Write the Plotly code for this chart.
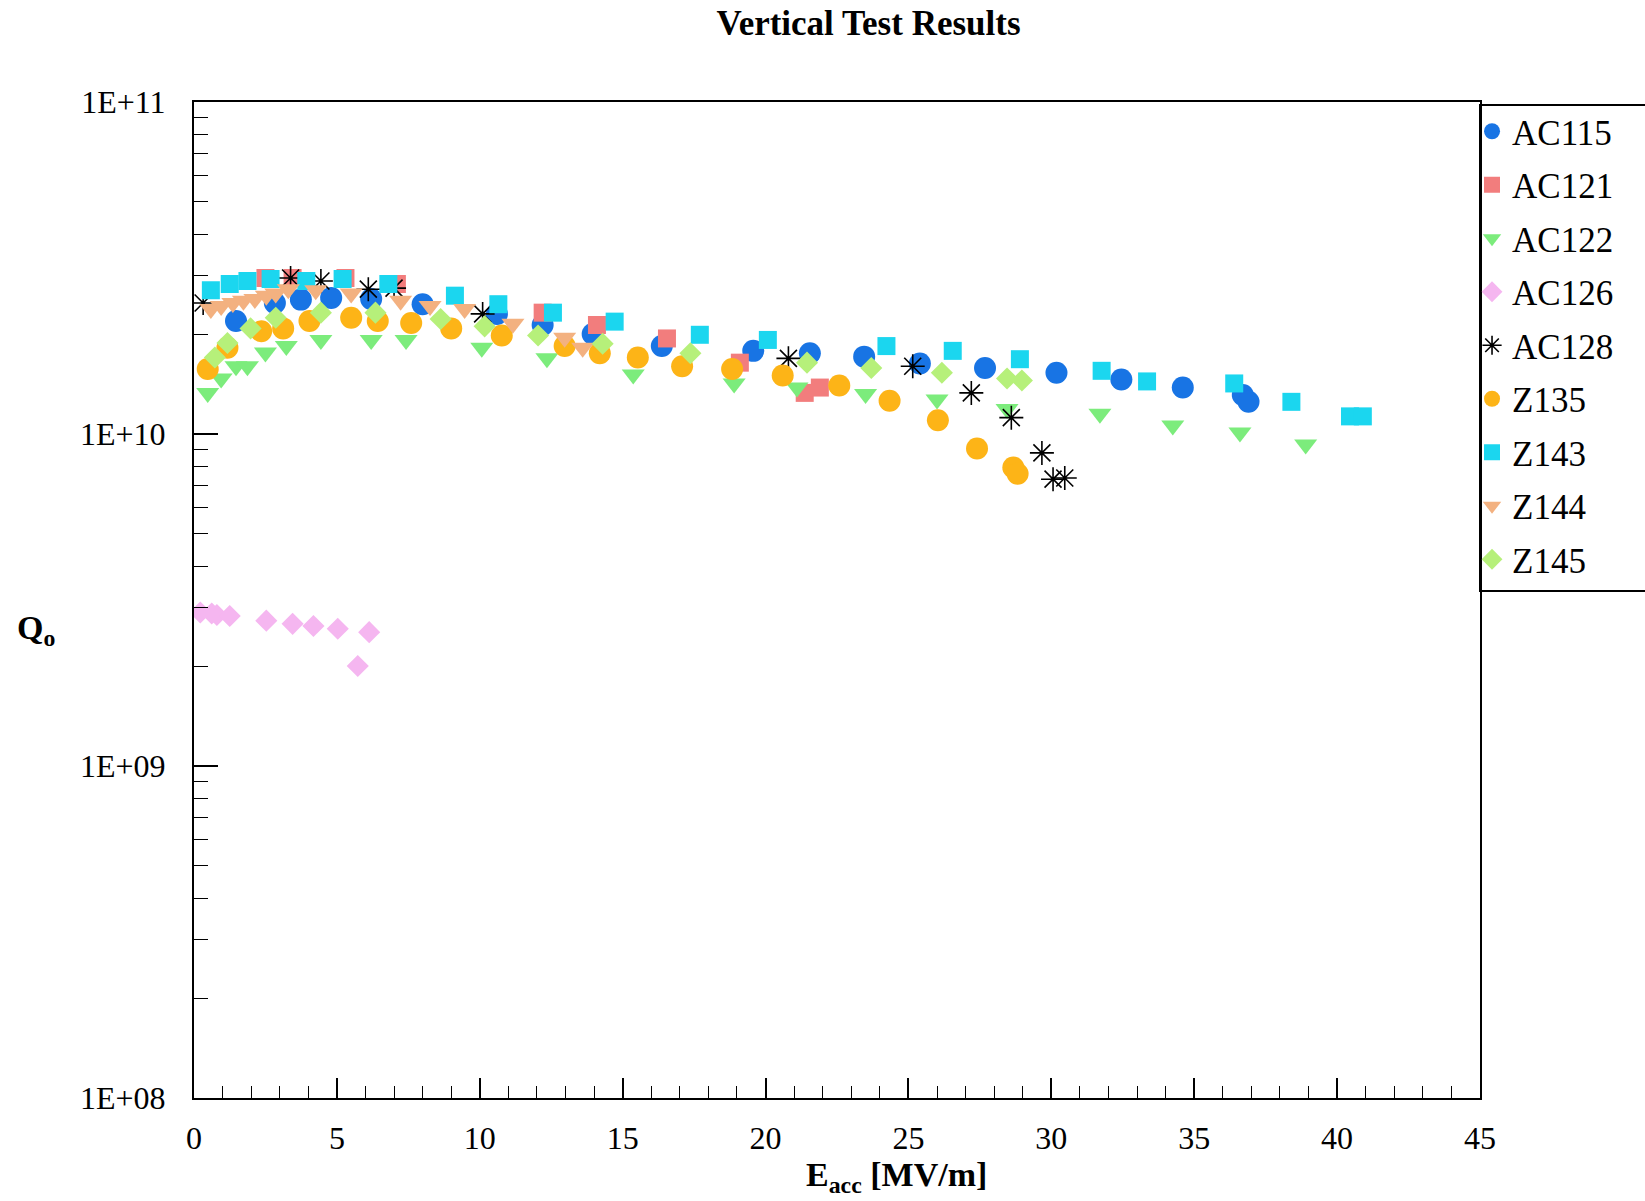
import plotly.graph_objects as go

# Accelerating gradient E_acc [MV/m] and quality factor Q0 for each cavity
ac115_e = [1.47, 2.83, 3.74, 4.8, 6.2, 8.0, 10.6, 12.2, 13.95, 16.37, 19.57, 21.55, 23.45, 25.4, 27.68, 30.18, 32.45, 34.6, 36.7, 36.9]
ac115_q = [2.19e10, 2.48e10, 2.54e10, 2.57e10, 2.55e10, 2.46e10, 2.30e10, 2.13e10, 2.0e10, 1.84e10, 1.78e10, 1.75e10, 1.71e10, 1.63e10, 1.58e10, 1.53e10, 1.46e10, 1.38e10, 1.31e10, 1.25e10]

ac121_e = [2.5, 3.45, 5.3, 7.1, 12.2, 14.1, 16.55, 19.1, 21.37, 21.9]
ac121_q = [2.95e10, 2.95e10, 2.95e10, 2.83e10, 2.32e10, 2.13e10, 1.94e10, 1.64e10, 1.33e10, 1.38e10]

ac122_e = [0.48, 0.95, 1.47, 1.87, 2.5, 3.23, 4.44, 6.2, 7.42, 10.07, 12.35, 15.37, 18.9, 21.1, 23.5, 26.0, 28.45, 31.7, 34.25, 36.6, 38.9]
ac122_q = [1.33e10, 1.47e10, 1.6e10, 1.6e10, 1.76e10, 1.84e10, 1.92e10, 1.92e10, 1.92e10, 1.82e10, 1.69e10, 1.51e10, 1.42e10, 1.38e10, 1.32e10, 1.27e10, 1.19e10, 1.15e10, 1.06e10, 1.01e10, 9.3e9]

ac126_e = [0.22, 0.62, 0.8, 1.25, 2.53, 3.45, 4.18, 5.03, 6.13, 5.73]
ac126_q = [2.9e9, 2.88e9, 2.85e9, 2.83e9, 2.74e9, 2.68e9, 2.64e9, 2.59e9, 2.53e9, 2.0e9]

ac128_e = [0.32, 3.38, 4.44, 6.1, 7.0, 10.1, 20.8, 25.15, 27.2, 28.6, 29.67, 30.06, 30.47]
ac128_q = [2.48e10, 2.95e10, 2.89e10, 2.73e10, 2.75e10, 2.3e10, 1.69e10, 1.6e10, 1.33e10, 1.12e10, 8.77e9, 7.31e9, 7.37e9]

z135_e = [0.48, 1.17, 2.35, 3.12, 4.04, 5.5, 6.43, 7.6, 9.0, 10.77, 12.97, 14.2, 15.53, 17.08, 18.83, 20.6, 22.58, 24.34, 26.03, 27.4, 28.67, 28.82]
z135_q = [1.57e10, 1.82e10, 2.04e10, 2.08e10, 2.19e10, 2.24e10, 2.19e10, 2.16e10, 2.08e10, 1.98e10, 1.84e10, 1.75e10, 1.70e10, 1.6e10, 1.57e10, 1.5e10, 1.4e10, 1.26e10, 1.1e10, 9.04e9, 7.93e9, 7.59e9]

z143_e = [0.59, 1.25, 1.87, 2.68, 3.93, 5.2, 6.8, 9.13, 10.65, 12.56, 14.72, 17.7, 20.08, 24.23, 26.55, 28.9, 31.76, 33.35, 36.4, 38.4, 40.45, 40.9]
z143_q = [2.71e10, 2.83e10, 2.89e10, 2.93e10, 2.89e10, 2.93e10, 2.83e10, 2.61e10, 2.46e10, 2.32e10, 2.18e10, 1.99e10, 1.92e10, 1.84e10, 1.78e10, 1.68e10, 1.55e10, 1.44e10, 1.42e10, 1.25e10, 1.13e10, 1.13e10]

z144_e = [0.59, 0.95, 1.36, 1.73, 2.13, 2.53, 2.86, 3.3, 4.26, 5.5, 7.23, 8.26, 9.47, 11.16, 12.97, 13.6]
z144_q = [2.38e10, 2.43e10, 2.48e10, 2.52e10, 2.55e10, 2.61e10, 2.65e10, 2.73e10, 2.71e10, 2.65e10, 2.52e10, 2.43e10, 2.38e10, 2.15e10, 1.95e10, 1.82e10]

z145_e = [0.73, 1.17, 1.98, 2.86, 4.44, 6.35, 8.63, 10.17, 12.04, 14.3, 17.37, 21.45, 23.7, 26.17, 28.45, 28.97]
z145_q = [1.7e10, 1.88e10, 2.08e10, 2.24e10, 2.32e10, 2.32e10, 2.22e10, 2.11e10, 1.98e10, 1.87e10, 1.75e10, 1.64e10, 1.58e10, 1.53e10, 1.47e10, 1.45e10]

x_ticks = [0, 5, 10, 15, 20, 25, 30, 35, 40, 45]
y_ticks = [1e8, 1e9, 1e10, 1e11]
y_tick_labels = ["1E+08", "1E+09", "1E+10", "1E+11"]

FONT = "Liberation Serif"

series = [
    ("AC115", ac115_e, ac115_q, "circle", "#1874e4", 22),
    ("AC121", ac121_e, ac121_q, "square", "#f27d7d", 18),
    ("AC122", ac122_e, ac122_q, "triangle-down", "#7cec7c", 20),
    ("AC126", ac126_e, ac126_q, "diamond", "#f5b6f0", 17),
    ("AC128", ac128_e, ac128_q, "asterisk-open", "#000000", 20),
    ("Z135", z135_e, z135_q, "circle", "#fdb417", 22),
    ("Z143", z143_e, z143_q, "square", "#1bd6ef", 18),
    ("Z144", z144_e, z144_q, "triangle-down", "#f3b180", 20),
    ("Z145", z145_e, z145_q, "diamond", "#b6f07a", 17),
]

fig = go.Figure()
for name, xs, ys, sym, col, size in series:
    if sym == "asterisk-open":
        marker = dict(symbol=sym, size=size, color=col, line=dict(color=col, width=1.6))
    else:
        marker = dict(symbol=sym, size=size, color=col, line=dict(width=0))
    fig.add_trace(go.Scatter(x=xs, y=ys, mode="markers", name=name,
                             legendgroup=name, marker=marker))

minor_y = [m * 10 ** d for d in (8, 9, 10) for m in range(2, 10)]

fig.update_layout(
    width=1645, height=1201,
    paper_bgcolor="white", plot_bgcolor="white",
    margin=dict(l=194, r=165, t=102, b=103, autoexpand=False),
    font=dict(family=FONT, color="black", size=32),
    title=dict(text="<b>Vertical Test Results</b>", x=0.528, xanchor="center",
               y=0.981, yanchor="middle", font=dict(family=FONT, size=35, color="black")),
    showlegend=True,
    legend=dict(x=0.9938, xanchor="left", y=1.0, yanchor="top",
                bgcolor="rgba(0,0,0,0)", borderwidth=0,
                font=dict(family=FONT, size=35, color="black"),
                itemsizing="trace", tracegroupgap=5, entrywidth=160),
    # legend frame, flush against the right edge of the plot
    shapes=[dict(type="rect", xref="paper", yref="paper",
                 x0=1.0, x1=1.14, y0=0.509, y1=0.997,
                 line=dict(color="black", width=2), fillcolor="rgba(0,0,0,0)")],
    xaxis=dict(range=[0, 45], tickmode="array", tickvals=x_ticks,
               ticks="inside", ticklen=20, tickwidth=1.5, tickcolor="black",
               minor=dict(dtick=1, ticks="inside", ticklen=12, tickwidth=1.2, tickcolor="black"),
               showline=True, linecolor="black", linewidth=2, mirror=True,
               showgrid=False, zeroline=False, ticklabelstandoff=11,
               tickfont=dict(family=FONT, size=32, color="black")),
    yaxis=dict(type="log", range=[8, 11], tickmode="array", tickvals=y_ticks,
               ticktext=y_tick_labels,
               ticks="inside", ticklen=24, tickwidth=1.5, tickcolor="black",
               minor=dict(tickmode="array", tickvals=minor_y, ticks="inside",
                          ticklen=14, tickwidth=1.2, tickcolor="black"),
               showline=True, linecolor="black", linewidth=2, mirror=True,
               showgrid=False, zeroline=False, ticklabelstandoff=20,
               tickfont=dict(family=FONT, size=32, color="black")),
    annotations=[
        dict(text="<b>Q<sub>o</sub></b>", xref="paper", yref="paper",
             x=-0.139, y=0.47, xanchor="left", yanchor="middle", showarrow=False,
             font=dict(family=FONT, size=34, color="black")),
        dict(text="<b>E<sub>acc</sub> [MV/m]</b>", xref="paper", yref="paper",
             x=0.546, y=-0.079, xanchor="center", yanchor="middle", showarrow=False,
             font=dict(family=FONT, size=34, color="black")),
    ],
)

fig.write_html("out.html")
